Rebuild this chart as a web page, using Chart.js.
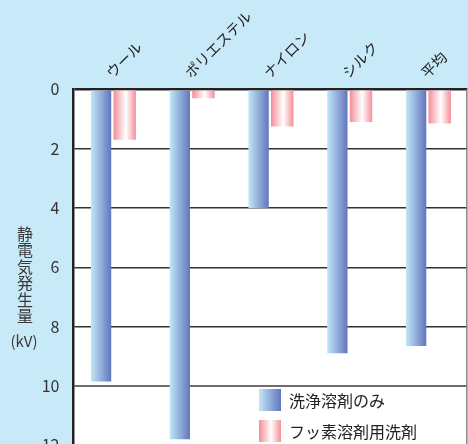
<!DOCTYPE html>
<html>
<head>
<meta charset="utf-8">
<script src="https://cdn.jsdelivr.net/npm/chart.js@4.4.1/dist/chart.umd.min.js"></script>
<style>
html,body{margin:0;padding:0;background:#c7e9f8;overflow:hidden;}
#wrap{position:absolute;left:0;top:0;width:468px;height:470px;}
</style>
</head>
<body>
<div id="wrap"><canvas id="c"></canvas></div>
<script>
// ---- data ----
const categories = ['ウール', 'ポリエステル', 'ナイロン', 'シルク', '平均'];
const seriesNames = ['洗浄溶剤のみ', 'フッ素溶剤用洗剤'];
const detergentOnly = [9.85, 11.8, 4.0, 8.9, 8.65];
const fluoroDetergent = [1.7, 0.3, 1.25, 1.1, 1.15];
const yTicks = [0, 2, 4, 6, 8, 10, 12];
const yTitleChars = ['静', '電', '気', '発', '生', '量'];
const yTitleUnit = '(kV)';

const FONT = '"Noto Sans CJK JP", "Noto Sans", sans-serif';
const CAT_PCT = 0.6;
const BAR_PCT = [0.86, 0.95];

function makeGradient(ctx, left, right, idx) {
  const g = ctx.createLinearGradient(left, 0, right, 0);
  if (idx === 0) {
    g.addColorStop(0, '#c3e6f8');
    g.addColorStop(1, '#6176bd');
  } else {
    g.addColorStop(0, '#f48d97');
    g.addColorStop(0.55, '#ffffff');
    g.addColorStop(1, '#f48f99');
  }
  return g;
}

function barBg(context) {
  const chart = context.chart;
  const xs = chart.scales.x;
  const ds = context.datasetIndex;
  if (!xs || !chart.chartArea || context.dataIndex === undefined) return ds === 0 ? '#8fa6d8' : '#f7b3ba';
  const cat = xs.width / categories.length;
  const slot = cat * CAT_PCT / 2;
  const center = xs.getPixelForValue(context.dataIndex) + (ds === 0 ? -slot / 2 : slot / 2);
  const w = slot * BAR_PCT[ds];
  return makeGradient(chart.ctx, center - w / 2, center + w / 2, ds);
}

const decor = {
  id: 'decor',
  beforeDraw(chart) {
    const {ctx, chartArea: a} = chart;
    ctx.save();
    ctx.fillStyle = '#ffffff';
    ctx.fillRect(a.left, a.top, a.right - a.left, a.bottom - a.top);
    ctx.restore();
  },
  afterDraw(chart) {
    const {ctx, chartArea: a} = chart;
    ctx.save();
    // right border
    ctx.strokeStyle = '#8a8a8a';
    ctx.lineWidth = 1.5;
    ctx.beginPath();
    ctx.moveTo(a.right - 0.5, a.top);
    ctx.lineTo(a.right - 0.5, chart.height);
    ctx.stroke();
    // y axis title (vertical)
    ctx.fillStyle = '#3a3a3a';
    ctx.font = '16px ' + FONT;
    ctx.textAlign = 'center';
    ctx.textBaseline = 'middle';
    yTitleChars.forEach((ch, i) => ctx.fillText(ch, 25, 233.5 + i * 16.5));
    ctx.font = '15px ' + FONT;
    ctx.fillText(yTitleUnit, 24, 341);
    // legend
    const items = [{y: 389}, {y: 420}];
    ctx.font = '16px ' + FONT;
    ctx.textAlign = 'left';
    items.forEach((it, i) => {
      ctx.fillStyle = makeGradient(ctx, 259, 281, i);
      ctx.fillRect(259, it.y, 22, 22);
      ctx.fillStyle = '#222222';
      ctx.fillText(chart.data.datasets[i].label, 289, it.y + 11.5);
    });
    ctx.restore();
  }
};

new Chart(document.getElementById('c'), {
  type: 'bar',
  data: {
    labels: categories,
    datasets: [
      {label: seriesNames[0], data: detergentOnly, backgroundColor: barBg,
       categoryPercentage: CAT_PCT, barPercentage: BAR_PCT[0], borderWidth: 0},
      {label: seriesNames[1], data: fluoroDetergent, backgroundColor: barBg,
       categoryPercentage: CAT_PCT, barPercentage: BAR_PCT[1], borderWidth: 0}
    ]
  },
  options: {
    responsive: true,
    maintainAspectRatio: false,
    animation: false,
    devicePixelRatio: 1,
    layout: {padding: {top: 0, left: 0, right: 0.7, bottom: 24.7}},
    plugins: {legend: {display: false}, tooltip: {enabled: false}},
    scales: {
      x: {
        position: 'top',
        offset: true,
        grid: {display: false, drawTicks: false},
        border: {display: false},
        ticks: {
          minRotation: 45, maxRotation: 45, padding: 8, labelOffset: 8,
          color: '#1e1e1e', font: {family: FONT, size: 14.5}
        },
        afterFit(s) { s.height = 89.3; }
      },
      y: {
        reverse: true,
        min: 0, max: 12,
        afterBuildTicks(s) { s.ticks = yTicks.map(v => ({value: v})); },
        grid: {
          drawTicks: false,
          color: c => (c.tick && c.tick.value === 0) ? '#222222' : (c.tick && c.tick.value === 10 ? '#6e6e6e' : '#333333'),
          lineWidth: c => (c.tick && c.tick.value === 0) ? 2.5 : (c.tick && c.tick.value === 10 ? 2 : 1.5)
        },
        border: {display: true, color: '#222222', width: 2.5},
        ticks: {
          padding: 14,
          color: '#333333', font: {family: FONT, size: 16},
          callback: v => String(v)
        },
        afterFit(s) { s.width = 73.5; }
      }
    }
  },
  plugins: [decor]
});
</script>
</body>
</html>
